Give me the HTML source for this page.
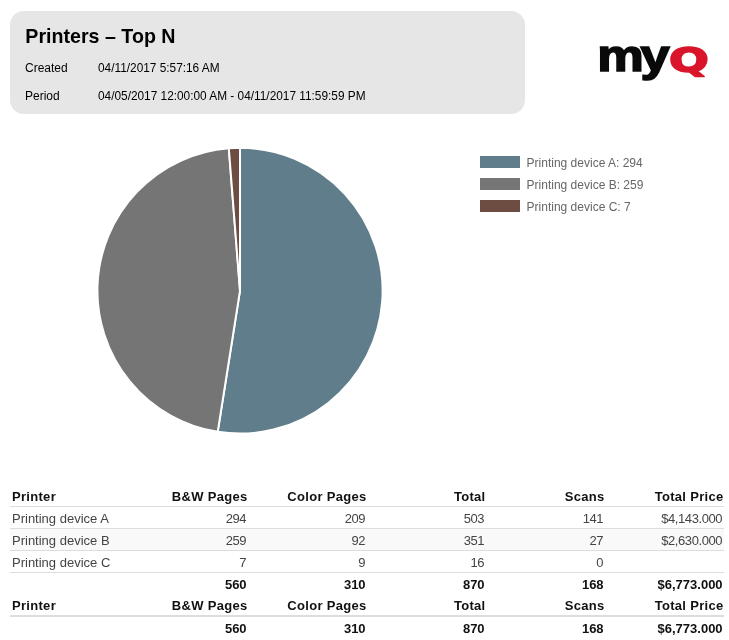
<!DOCTYPE html>
<html>
<head>
<meta charset="utf-8">
<title>Printers – Top N</title>
<style>
html,body{margin:0;padding:0;background:#fff;}
body{width:729px;height:640px;position:relative;overflow:hidden;font-family:"Liberation Sans",sans-serif;color:#000;}
.hdr{position:absolute;left:10px;top:11px;width:515px;height:103px;background:#e6e6e6;border-radius:14px;}
.hdr h1{position:absolute;left:15.3px;top:12.8px;margin:0;font-size:19.65px;line-height:24px;font-weight:bold;white-space:nowrap;}
.hdr .l{position:absolute;left:15px;font-size:12px;line-height:16px;white-space:nowrap;}
.hdr .v{position:absolute;left:88px;font-size:11.85px;line-height:16px;white-space:nowrap;}
.logo{position:absolute;left:590px;top:36px;width:130px;height:52px;}
.pie{position:absolute;left:90px;top:141px;width:300px;height:300px;}
.lg{position:absolute;left:480px;font-size:12px;line-height:14px;color:#666;white-space:nowrap;}
.lg i{position:absolute;left:0;top:1px;width:40px;height:12px;display:block;}
.lg span{position:absolute;left:46.6px;top:0.7px;}
table{position:absolute;left:10px;top:485px;width:714px;border-collapse:separate;border-spacing:0;table-layout:fixed;font-size:13px;}
td,th{height:22px;padding:2px 1px 0 1px;box-sizing:border-box;text-align:right;white-space:nowrap;line-height:19px;border-bottom:1px solid transparent;overflow:visible;}
td:first-child,th:first-child{text-align:left;padding-left:2px;}
th{font-weight:bold;border-bottom-color:#ddd;color:#111;letter-spacing:0.3px;padding-right:0.5px;}
tr.d td{color:#444;border-bottom-color:#ddd;letter-spacing:-0.4px;padding-right:1.8px;}
tr.d td:first-child{letter-spacing:0;}
tr.alt td{background:#f9f9f9;}
tr.h2 th{padding-top:1px;border-bottom-width:2px;}
tr.t td{font-weight:bold;color:#111;padding-right:1.4px;}
</style>
</head>
<body>
<div class="hdr">
  <h1>Printers – Top N</h1>
  <div class="l" style="top:49px">Created</div><div class="v" style="top:49px">04/11/2017 5:57:16 AM</div>
  <div class="l" style="top:77px">Period</div><div class="v" style="top:77px">04/05/2017 12:00:00 AM - 04/11/2017 11:59:59 PM</div>
</div>
<svg class="logo" viewBox="0 0 130 52">
  <g font-family="Liberation Sans, sans-serif" font-weight="bold" font-size="44" fill="#0a0a0a" stroke="#0a0a0a" stroke-width="1.6">
    <text transform="translate(7.2 34.8) scale(1.19 1)">m<tspan dx="-2.7">y</tspan></text>
  </g>
  <text transform="translate(79 35.6) scale(1.42 1)" font-family="DejaVu Sans, sans-serif" font-weight="bold" font-size="33" fill="#d9142b" stroke="#d9142b" stroke-width="1.6" stroke-linejoin="round">Q</text>
</svg>
<svg class="pie" viewBox="-150 -150 300 300">
  <g stroke="#fff" stroke-width="2" stroke-linejoin="round" transform="translate(0 -0.3) scale(1 1.002)">
    <path d="M0 0L0.00 -142.60A142.6 142.6 0 1 1 -22.31 140.84Z" fill="#607d8b"/>
    <path d="M0 0L-22.31 140.84A142.6 142.6 0 0 1 -11.19 -142.16Z" fill="#757575"/>
    <path d="M0 0L-11.19 -142.16A142.6 142.6 0 0 1 -0.00 -142.60Z" fill="#6d4c41"/>
  </g>
</svg>
<div class="lg" style="top:155px"><i style="background:#607d8b"></i><span>Printing device A: 294</span></div>
<div class="lg" style="top:177px"><i style="background:#757575"></i><span>Printing device B: 259</span></div>
<div class="lg" style="top:199px"><i style="background:#6d4c41"></i><span>Printing device C: 7</span></div>
<table>
  <tr><th>Printer</th><th>B&amp;W Pages</th><th>Color Pages</th><th>Total</th><th>Scans</th><th>Total Price</th></tr>
  <tr class="d"><td>Printing device A</td><td>294</td><td>209</td><td>503</td><td>141</td><td>$4,143.000</td></tr>
  <tr class="d alt"><td>Printing device B</td><td>259</td><td>92</td><td>351</td><td>27</td><td>$2,630.000</td></tr>
  <tr class="d"><td>Printing device C</td><td>7</td><td>9</td><td>16</td><td>0</td><td></td></tr>
  <tr class="t"><td></td><td>560</td><td>310</td><td>870</td><td>168</td><td>$6,773.000</td></tr>
  <tr class="h2"><th>Printer</th><th>B&amp;W Pages</th><th>Color Pages</th><th>Total</th><th>Scans</th><th>Total Price</th></tr>
  <tr class="t"><td></td><td>560</td><td>310</td><td>870</td><td>168</td><td>$6,773.000</td></tr>
</table>
</body>
</html>
